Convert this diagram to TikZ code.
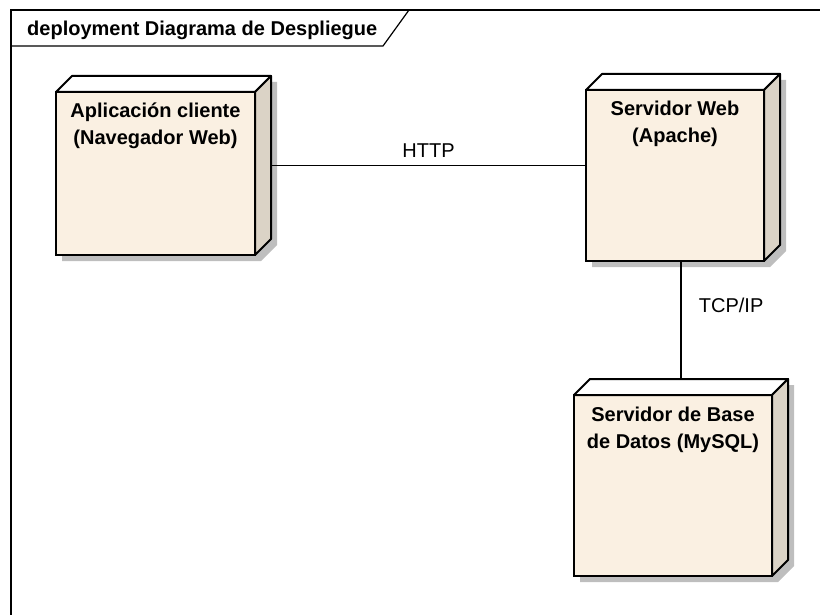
\documentclass[tikz,border=0pt]{standalone}
\usepackage{fontspec}
\setmainfont{Liberation Sans}
\usetikzlibrary{positioning}
\pgfdeclarelayer{background}
\pgfsetlayers{background,main}
\definecolor{nodefront}{RGB}{250,240,226}
\definecolor{nodeside}{RGB}{219,211,198}
\definecolor{nodeshadow}{RGB}{190,190,190}
\tikzset{
	devnode/.style={draw=black, line width=2pt, fill=nodefront, rectangle, inner sep=0pt, outer sep=0pt},
	devface/.style={draw=black, line width=2pt, line join=round},
	devtext/.style={font=\bfseries\fontsize{20}{27}\selectfont, align=center, inner sep=0pt, anchor=north},
	link/.style={draw=black, line width=1.8pt},
	linklabel/.style={font=\fontsize{20}{24}\selectfont, inner sep=0pt}
}

\begin{document}
\begin{tikzpicture}[x=1pt, y=-1pt]
	\useasboundingbox (0,0) rectangle (820,615);
	\clip (0,0) rectangle (820,615);
	\draw[line width=1.2pt] (11,625) -- (11,10) -- (830,10);
	\draw[line width=1.2pt] (11,46) -- (383,46) -- (409,10);
	\node[anchor=base west, inner sep=0pt, font=\bfseries\fontsize{20}{24}\selectfont] (title) at (27,36) {deployment Diagrama de Despliegue};

	\node[devnode, minimum width=199pt, minimum height=163pt] (cli) at (155.5,173.5) {};
	\node[devnode, minimum width=178pt, minimum height=171pt] (web) at (675,175.5) {};
	\node[devnode, minimum width=198pt, minimum height=181pt] (db) at (673,485.5) {};

	\foreach \n in {cli,web,db} {
		\begin{pgfonlayer}{background}
			\fill[nodeshadow] ([shift={(6,6)}]\n.north west) -- ([shift={(22,-10)}]\n.north west) -- ([shift={(22,-10)}]\n.north east) -- ([shift={(22,-10)}]\n.south east) -- ([shift={(6,6)}]\n.south east) -- ([shift={(6,6)}]\n.south west) -- cycle;
		\end{pgfonlayer}
		\draw[devface, fill=white] (\n.north west) -- ++(16,-16) -- ([shift={(16,-16)}]\n.north east) -- (\n.north east) -- cycle;
		\draw[devface, fill=nodeside] (\n.north east) -- ++(16,-16) -- ([shift={(16,-16)}]\n.south east) -- (\n.south east) -- cycle;
	}

	\node[devtext, below=11pt of cli.north] (clitext) {Aplicación cliente\\(Navegador Web)};
	\node[devtext, below=11pt of web.north] (webtext) {Servidor Web\\(Apache)};
	\node[devtext, below=12pt of db.north] (dbtext) {Servidor de Base\\de Datos (MySQL)};

	\draw[link] ([shift={(16,-8)}]cli.east) coordinate (h) -- (h -| web.west) node[linklabel, midway, above=7pt] (http) {HTTP};
	\draw[link] ([shift={(8,-16)}]db.north) coordinate (t) -- (t |- web.south) node[linklabel, pos=0.62, right=17pt] (tcp) {TCP/IP};
\end{tikzpicture}
\end{document}
